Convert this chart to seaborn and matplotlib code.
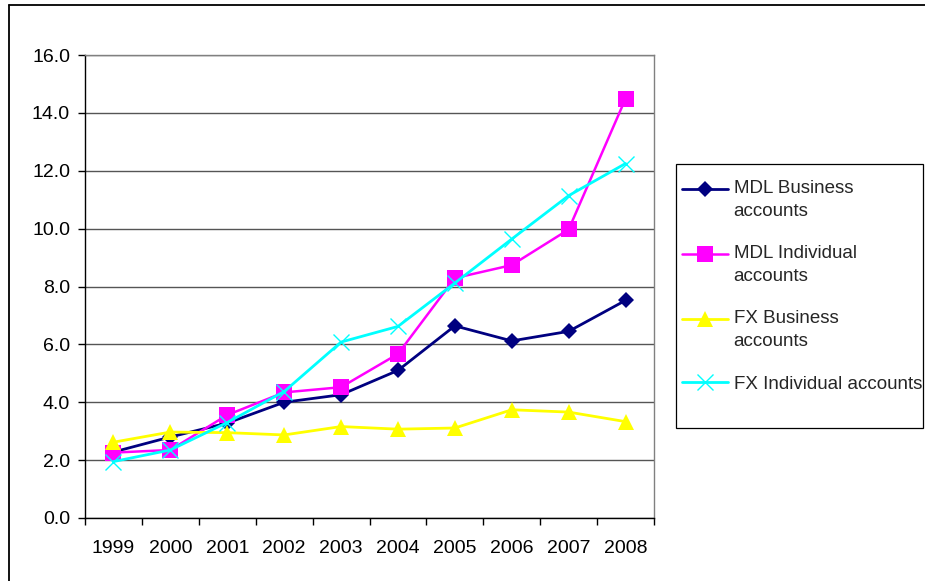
import numpy as np
import pandas as pd
import matplotlib
matplotlib.use("Agg")
import matplotlib.pyplot as plt
from matplotlib.patches import Rectangle
from matplotlib.lines import Line2D
from matplotlib.legend_handler import HandlerLine2D
from matplotlib.ticker import FixedLocator, FormatStrFormatter
import seaborn as sns

# ---------------- data ----------------
years = ["1999", "2000", "2001", "2002", "2003", "2004", "2005", "2006", "2007", "2008"]
mdl_business = [2.28, 2.80, 3.28, 4.00, 4.26, 5.10, 6.64, 6.12, 6.45, 7.52]
mdl_individual = [2.26, 2.35, 3.56, 4.34, 4.52, 5.67, 8.29, 8.74, 9.97, 14.49]
fx_business = [2.62, 2.97, 2.95, 2.87, 3.16, 3.07, 3.11, 3.74, 3.66, 3.33]
fx_individual = [1.95, 2.35, 3.30, 4.37, 6.08, 6.62, 8.12, 9.64, 11.14, 12.25]
series_labels = ["MDL Business\naccounts", "MDL Individual\naccounts",
                 "FX Business\naccounts", "FX Individual accounts"]
y_ticks = [0, 2, 4, 6, 8, 10, 12, 14, 16]

# ---------------- style ----------------
sns.set_theme(style="white")
plt.rcParams["font.family"] = ["Liberation Sans", "DejaVu Sans"]
FS = 14
FS_LEG = 13.5

W, H = 925, 581
fig = plt.figure(figsize=(W / 100, H / 100), dpi=100)
ax = fig.add_axes([85 / W, 1 - 518 / H, (654 - 85) / W, (518 - 55) / H])

x = np.arange(len(years))
styles = [
    dict(color="#000080", marker="D", markersize=8.2, markeredgewidth=0, lw=2.0),
    dict(color="#FF00FF", marker="s", markersize=11, markeredgewidth=0, lw=1.8),
    dict(color="#FFFF00", marker="^", markersize=12, markeredgewidth=0, lw=2.0),
    dict(color="#00FFFF", marker="x", markersize=11, markeredgewidth=1.0,
         markeredgecolor="#00FFFF", lw=2.0),
]
all_series = [mdl_business, mdl_individual, fx_business, fx_individual]
for vals, lab, st in zip(all_series, series_labels, styles):
    sns.lineplot(x=x, y=vals, ax=ax, label=lab, sort=False, **st)

if ax.get_legend() is not None:
    ax.get_legend().remove()

# axes
ax.set_xlim(-0.5, len(years) - 0.5)
ax.set_ylim(0, 16)
ax.yaxis.set_major_locator(FixedLocator(y_ticks))
ax.yaxis.set_major_formatter(FormatStrFormatter("%.1f"))
ax.grid(axis="y", color="#555555", lw=1.0)
ax.grid(axis="x", visible=False)
ax.set_axisbelow(True)
ax.set_xticks(x)
ax.set_xticklabels(years)
ax.set_xticks(np.arange(-0.5, len(years), 1.0), minor=True)
ax.tick_params(axis="x", which="major", length=0, pad=16, labelsize=FS, colors="black")
ax.tick_params(axis="x", which="minor", length=4.8, width=1.0, direction="out",
               color="black", bottom=True)
ax.tick_params(axis="y", which="major", length=4.8, width=1.0, direction="out",
               color="black", left=True, pad=6, labelsize=FS, labelcolor="black")
ax.set_xlabel("")
ax.set_ylabel("")
for s in ["left", "bottom"]:
    ax.spines[s].set_color("black")
    ax.spines[s].set_linewidth(1.0)
for s in ["top", "right"]:
    ax.spines[s].set_color("#808080")
    ax.spines[s].set_linewidth(1.0)


# legend (handle aligned with first text line)
class FirstLineHandler(HandlerLine2D):
    def __init__(self, dy=0.0, **kw):
        super().__init__(**kw)
        self.dy = dy

    def create_artists(self, legend, orig_handle, xdescent, ydescent, width,
                       height, fontsize, trans):
        arts = super().create_artists(legend, orig_handle, xdescent, ydescent,
                                      width, height, fontsize, trans)
        for a in arts:
            if isinstance(a, Line2D):
                yd = np.asarray(a.get_ydata(), dtype=float) + self.dy
                a.set_ydata(yd)
        return arts


handles, labels = ax.get_legend_handles_labels()
hmap = {}
for h, l in zip(handles, labels):
    hmap[h] = FirstLineHandler(dy=8.4 if "\n" in l else 0.0, numpoints=1)
leg = fig.legend(handles, labels, loc="upper left",
                 bbox_to_anchor=(681.7 / W, 1 - 180.4 / H),
                 bbox_transform=fig.transFigure, frameon=False,
                 fontsize=FS_LEG, handlelength=2.45, handletextpad=0.32,
                 labelspacing=1.35, borderpad=0, borderaxespad=0,
                 handler_map=hmap)
for t in leg.get_texts():
    t.set_linespacing(1.44)

# legend box
fig.add_artist(Rectangle((676 / W, 1 - 428.3 / H), (922.7 - 676) / W,
                         (428.3 - 164.3) / H, transform=fig.transFigure,
                         fill=False, edgecolor="black", lw=0.9))

# outer chart border (clipped at right / bottom)
fig.add_artist(Line2D([8.5 / W, 8.5 / W], [0, 1 - 5 / H], transform=fig.transFigure,
                      color="black", lw=1.3))
fig.add_artist(Line2D([8.5 / W, 1.0], [1 - 5 / H, 1 - 5 / H], transform=fig.transFigure,
                      color="black", lw=1.3))

fig.savefig("out.png", dpi=100, facecolor="white")
